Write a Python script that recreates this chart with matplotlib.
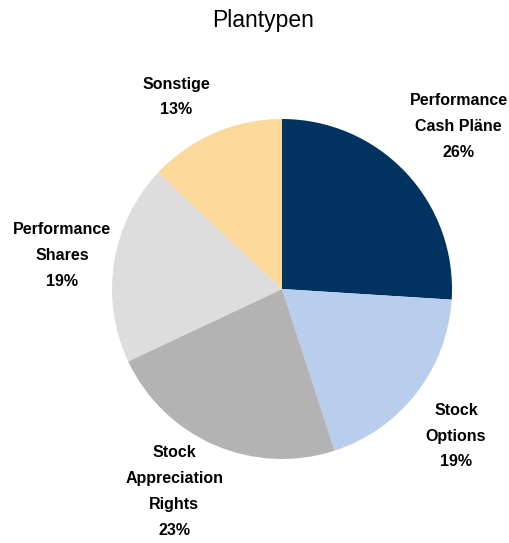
import numpy as np
import matplotlib.pyplot as plt

names = ['Performance\nCash Pläne', 'Stock\nOptions', 'Stock\nAppreciation\nRights',
         'Performance\nShares', 'Sonstige']
values = [26, 19, 23, 19, 13]
colors = ['#00335F', '#B9CDEC', '#B3B3B3', '#DDDDDD', '#FDD89B']

# label placement (radius in pie radii, angle in degrees)
label_r = [1.41, 1.34, 1.35, 1.31, 1.29]
label_ang = [42.6, -40.2, -118, 171.3, 118.9]

plt.rcParams['font.family'] = ['Liberation Sans Narrow', 'Liberation Sans', 'DejaVu Sans']

fig = plt.figure(figsize=(5.09, 5.43), dpi=100)
ax = fig.add_axes([0, 0, 1, 1])

labels = [f'{n}\n{v}%' for n, v in zip(names, values)]
wedges, texts = ax.pie(values, labels=labels, colors=colors, startangle=90,
                       counterclock=False, labeldistance=1.33,
                       textprops=dict(fontsize=11.5, fontweight='bold', linespacing=1.9))
for t, rr, a in zip(texts, label_r, label_ang):
    t.set_ha('center')
    t.set_va('center')
    t.set_position((rr * np.cos(np.radians(a)), rr * np.sin(np.radians(a))))

# pie radius = 170 px, centre at (282, 289) px
r = 170
ax.set_xlim(-282 / r, (509 - 282) / r)
ax.set_ylim(-(543 - 289) / r, 289 / r)
ax.set_aspect('equal')
ax.axis('off')

fig.text(0.517, 0.962, 'Plantypen', ha='center', va='center', fontsize=16.5)

fig.savefig('out.png', dpi=100)
